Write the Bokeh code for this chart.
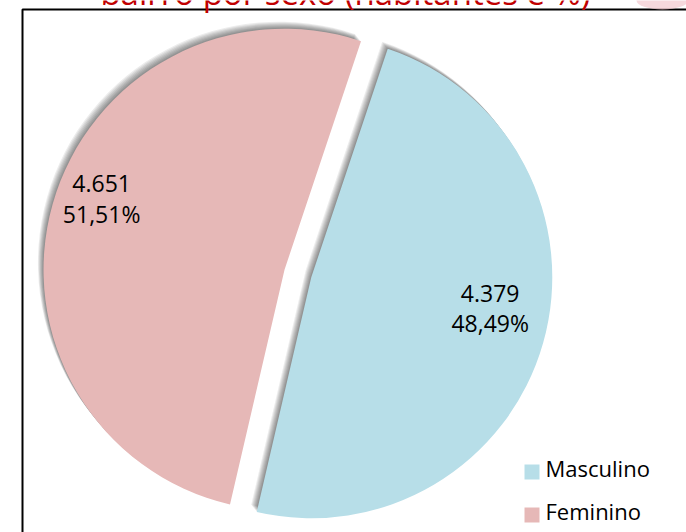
import numpy as np
from bokeh.plotting import figure
from bokeh.models import Range1d
from bokeh.core.properties import value
from bokeh.embed import file_html
from bokeh.resources import INLINE

# ---- data ----
categories = ["Masculino", "Feminino"]
habitantes = [4379, 4651]
value_labels = ["4.379", "4.651"]
percent_labels = ["48,49%", "51,51%"]
colors = ["#B7DEE8", "#E6B8B7"]
title_text = "bairro por sexo (habitantes e %)"

W, H = 686, 532
FONT = value("Open Sans")

p = figure(width=W, height=H, output_backend="svg", toolbar_location=None,
           x_range=Range1d(0, W), y_range=Range1d(0, H), min_border=0,
           x_axis_location=None, y_axis_location=None, outline_line_color=None)
p.grid.visible = False
p.background_fill_color = "white"
p.border_fill_color = "white"
p.styles = {"position": "absolute", "top": "0px", "left": "0px"}


def sy(y):  # screen y (top-down) -> data y
    return H - y


# ---- pie geometry (layout) ----
cx, cy = 297.4, sy(273.0)
R = 241.0
explode = 13.9
start_cw = 18.5  # degrees clockwise from 12 o'clock

total = float(sum(habitantes))
frac = np.array(habitantes, dtype=float) / total
starts, ends, mids = [], [], []
a = 90.0 - start_cw
for f in frac:
    s, e = a, a - f * 360.0
    starts.append(s)
    ends.append(e)
    mids.append((s + e) / 2.0)
    a = e

centers = []
for m in mids:
    r = np.radians(m)
    centers.append((cx + explode * np.cos(r), cy + explode * np.sin(r)))

# ---- frame & title ----
p.quad(left=[22], right=[W + 20], top=[sy(9)], bottom=[-20],
       fill_color=None, line_color="black", line_width=2)
p.text(x=[345], y=[sy(6.5) + 15], text=[title_text], text_color="#C00000",
       text_font=FONT, text_font_size="33px", text_align="center",
       text_baseline="alphabetic")
p.ellipse(x=[662], y=[sy(0)], width=[52], height=[18], fill_color="#F2C9CE",
          fill_alpha=0.7, line_color=None)

# ---- soft shadow (offset up-left) ----
for k in range(1, 8):
    for i in range(len(habitantes)):
        x0, y0 = centers[i]
        p.wedge(x=[x0 - 0.8 * k], y=[y0 + k], radius=R,
                start_angle=np.radians(ends[i]), end_angle=np.radians(starts[i]),
                fill_color="black", fill_alpha=0.075, line_color=None)

# ---- slices ----
for i in range(len(habitantes)):
    x0, y0 = centers[i]
    p.wedge(x=[x0], y=[y0], radius=R,
            start_angle=np.radians(ends[i]), end_angle=np.radians(starts[i]),
            fill_color=colors[i], line_color=None)

# ---- data labels ----
for i in range(len(habitantes)):
    x0, y0 = centers[i]
    r = np.radians(mids[i])
    lx = x0 + 0.78 * R * np.cos(r) - 2
    ly = y0 + 0.78 * R * np.sin(r)
    p.text(x=[lx], y=[ly + 23 + 12], text=[value_labels[i]], text_color="black",
           text_font=FONT, text_font_size="23px", text_align="center",
           text_baseline="alphabetic")
    p.text(x=[lx], y=[ly - 7 + 12], text=[percent_labels[i]], text_color="black",
           text_font=FONT, text_font_size="23px", text_align="center",
           text_baseline="alphabetic")

# ---- legend ----
leg_y = [471.5, 514.5]
for i in range(len(categories)):
    p.rect(x=[531.5], y=[sy(leg_y[i])], width=15, height=15,
           fill_color=colors[i], line_color=None)
    p.text(x=[545], y=[sy(leg_y[i] + 6) + 10], text=[categories[i]],
           text_color="black", text_font=FONT, text_font_size="22px",
           text_align="left", text_baseline="alphabetic")

open("out.html", "w").write(file_html(p, INLINE))
